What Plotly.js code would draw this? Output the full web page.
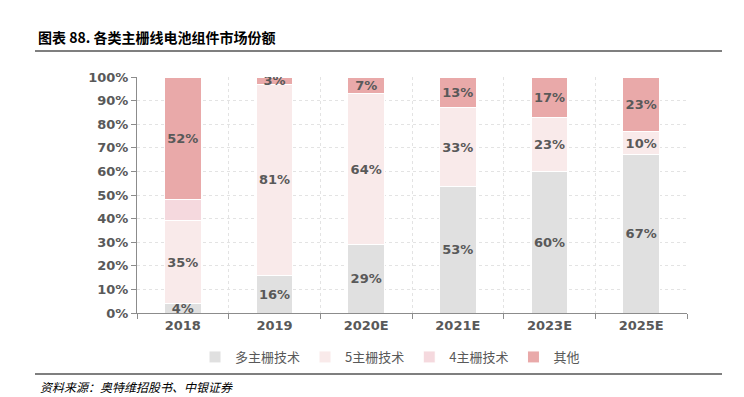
<!DOCTYPE html>
<html>
<head>
<meta charset="utf-8">
<script src="https://cdn.plot.ly/plotly-3.0.1.min.js"></script>
<style>html,body{margin:0;padding:0;background:#fff;}#chart{width:744px;height:397px;}</style>
</head>
<body>
<div id="chart"></div>
<script>
const categories = ['2018', '2019', '2020E', '2021E', '2023E', '2025E'];
const seriesNames = ['多主栅技术', '5主栅技术', '4主栅技术', '其他'];
const multiBusbar = [4, 16, 29, 53, 60, 67];
const fiveBusbar = [35, 81, 64, 33, 23, 10];
const fourBusbar = [9, 0, 0, 0, 0, 0];
const others = [52, 3, 7, 13, 17, 23];
const showLabel = [true, true, false, true];
const colors = ['#e0e0e0', '#f9eaea', '#f5d9de', '#e9a9a9'];
const tickVals = [0, 10, 20, 30, 40, 50, 60, 70, 80, 90, 100];
const tickText = tickVals.map(v => v + '%');

const allSeries = [multiBusbar, fiveBusbar, fourBusbar, others];
const labelFont = {family: 'DejaVu Sans, Verdana, sans-serif', size: 13, color: '#595959', weight: 'bold'};

const traces = allSeries.map((vals, i) => ({
  type: 'bar',
  name: seriesNames[i],
  x: categories,
  y: vals,
  marker: {color: colors[i], line: {color: '#ffffff', width: 1}},
  text: showLabel[i] ? vals.map(v => v + '%') : vals.map(() => ''),
  textposition: 'inside',
  insidetextanchor: 'middle',
  textangle: 0,
  textfont: labelFont,
  hoverinfo: 'none'
}));

const px = v => (v - 137) / 550;
const py = v => (313 - v) / 236;

const layout = {
  width: 744, height: 397,
  margin: {l: 137, r: 57, t: 77, b: 84},
  paper_bgcolor: '#ffffff', plot_bgcolor: '#ffffff',
  barmode: 'stack',
  barnorm: 'percent',
  bargap: 0.6,
  uniformtext: {mode: 'show', minsize: 13},
  showlegend: true,
  title: {
    text: '<b>图表 88. 各类主栅线电池组件市场份额</b>',
    font: {family: 'Noto Sans CJK SC, sans-serif', size: 14, color: '#000000'},
    xref: 'container', yref: 'container', x: 38/744, xanchor: 'left', y: 1 - 38/397, yanchor: 'middle'
  },
  xaxis: {
    type: 'category',
    tickson: 'boundaries',
    ticks: 'outside', ticklen: 5, tickcolor: '#8c8c8c',
    showline: true, linecolor: '#8c8c8c', linewidth: 1,
    showgrid: true, gridcolor: '#e3e3e3', griddash: 'dot', gridwidth: 1,
    tickfont: labelFont,
    fixedrange: true
  },
  yaxis: {
    range: [0, 100],
    tickvals: tickVals, ticktext: tickText,
    ticks: 'outside', ticklen: 5, tickcolor: '#8c8c8c',
    showline: true, linecolor: '#8c8c8c', linewidth: 1,
    showgrid: true, gridcolor: '#e3e3e3', griddash: 'dot', gridwidth: 1,
    zeroline: false,
    tickfont: labelFont,
    fixedrange: true
  },
  legend: {
    orientation: 'h', x: px(390), xanchor: 'center', y: py(357), yanchor: 'middle',
    font: {family: 'Noto Sans CJK SC, sans-serif', size: 13, color: '#595959'},
    traceorder: 'normal', itemwidth: 30, tracegroupgap: 0
  },
  shapes: [
    {type: 'line', xref: 'paper', yref: 'paper', x0: px(35), x1: px(722), y0: py(51), y1: py(51), line: {color: '#000000', width: 1.2}},
    {type: 'line', xref: 'paper', yref: 'paper', x0: px(35), x1: px(722), y0: py(374), y1: py(374), line: {color: '#000000', width: 1.2}}
  ],
  annotations: [
    {text: '<i>资料来源：奥特维招股书、中银证券</i>', xref: 'paper', yref: 'paper', x: px(38), y: py(386), xanchor: 'left', yanchor: 'middle', showarrow: false,
     font: {family: 'Noto Sans CJK SC, sans-serif', size: 12, color: '#000000'}}
  ]
};

Plotly.newPlot('chart', traces, layout, {displayModeBar: false, staticPlot: true});
</script>
</body>
</html>
